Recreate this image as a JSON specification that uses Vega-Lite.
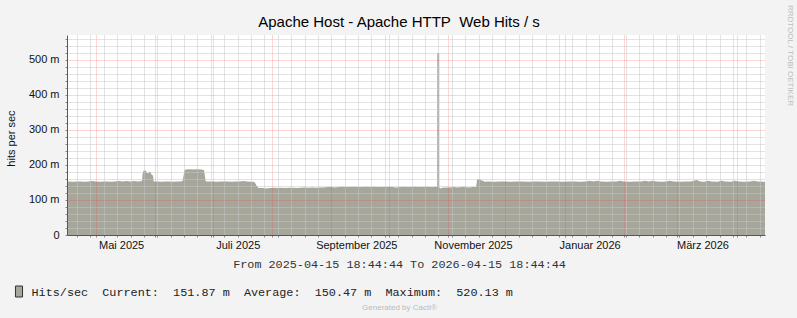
{
  "$schema": "https://vega.github.io/schema/vega-lite/v6.json",
  "autosize": {"type": "none"},
  "width": 698,
  "height": 200,
  "padding": {"left": 67, "top": 35, "right": 32, "bottom": 83},
  "background": "#f3f3f3",
  "config": {
    "font": "Liberation Sans",
    "view": {"fill": "white", "stroke": null},
    "legend": {
      "orient": "none", "legendX": -54, "legendY": 250.5, "padding": 0,
      "symbolType": "M-0.64,-1H0.64V1H-0.64Z", "symbolSize": 121,
      "symbolStrokeColor": "#333333", "symbolStrokeWidth": 1, "symbolOpacity": 1,
      "labelFont": "Liberation Mono", "labelFontSize": 11.8, "labelColor": "#222222",
      "labelLimit": 0, "labelOffset": 6.5
    }
  },
  "title": {
    "text": "Apache Host - Apache HTTP\u00a0\u00a0Web Hits / s",
    "anchor": "middle", "frame": "group", "dx": -17, "dy": 30, "offset": 4,
    "font": "Liberation Sans", "fontSize": 15, "fontWeight": "normal", "color": "#000000"
  },
  "data": {"values": [
    {"t": "2025-04-15T18:44:44Z", "v": 0.152},
    {"t": "2025-04-17", "v": 0.153},
    {"t": "2025-04-19", "v": 0.152},
    {"t": "2025-04-21", "v": 0.153},
    {"t": "2025-04-23", "v": 0.153},
    {"t": "2025-04-25", "v": 0.152},
    {"t": "2025-04-27", "v": 0.153},
    {"t": "2025-04-29", "v": 0.154},
    {"t": "2025-05-01", "v": 0.153},
    {"t": "2025-05-03", "v": 0.152},
    {"t": "2025-05-05", "v": 0.153},
    {"t": "2025-05-07", "v": 0.153},
    {"t": "2025-05-09", "v": 0.152},
    {"t": "2025-05-11", "v": 0.153},
    {"t": "2025-05-13", "v": 0.154},
    {"t": "2025-05-15", "v": 0.153},
    {"t": "2025-05-17", "v": 0.154},
    {"t": "2025-05-19", "v": 0.153},
    {"t": "2025-05-21", "v": 0.154},
    {"t": "2025-05-23", "v": 0.153},
    {"t": "2025-05-25T00:00Z", "v": 0.154},
    {"t": "2025-05-25T08:00Z", "v": 0.176},
    {"t": "2025-05-26T00:00Z", "v": 0.186},
    {"t": "2025-05-26T12:00Z", "v": 0.183},
    {"t": "2025-05-27T00:00Z", "v": 0.185},
    {"t": "2025-05-27T12:00Z", "v": 0.178},
    {"t": "2025-05-28T06:00Z", "v": 0.176},
    {"t": "2025-05-28T18:00Z", "v": 0.181},
    {"t": "2025-05-29T12:00Z", "v": 0.179},
    {"t": "2025-05-30T00:00Z", "v": 0.172},
    {"t": "2025-05-30T18:00Z", "v": 0.170},
    {"t": "2025-05-31T03:00Z", "v": 0.153},
    {"t": "2025-06-02", "v": 0.153},
    {"t": "2025-06-04", "v": 0.152},
    {"t": "2025-06-06", "v": 0.153},
    {"t": "2025-06-08", "v": 0.153},
    {"t": "2025-06-10", "v": 0.152},
    {"t": "2025-06-12", "v": 0.153},
    {"t": "2025-06-14", "v": 0.153},
    {"t": "2025-06-15T06:00Z", "v": 0.154},
    {"t": "2025-06-16T06:00Z", "v": 0.186},
    {"t": "2025-06-17", "v": 0.187},
    {"t": "2025-06-19", "v": 0.188},
    {"t": "2025-06-21", "v": 0.187},
    {"t": "2025-06-23", "v": 0.188},
    {"t": "2025-06-25", "v": 0.187},
    {"t": "2025-06-26T10:00Z", "v": 0.186},
    {"t": "2025-06-27T08:00Z", "v": 0.153},
    {"t": "2025-06-29", "v": 0.153},
    {"t": "2025-07-01", "v": 0.153},
    {"t": "2025-07-03", "v": 0.152},
    {"t": "2025-07-05", "v": 0.153},
    {"t": "2025-07-07", "v": 0.153},
    {"t": "2025-07-09", "v": 0.153},
    {"t": "2025-07-11", "v": 0.152},
    {"t": "2025-07-13", "v": 0.153},
    {"t": "2025-07-15", "v": 0.153},
    {"t": "2025-07-17", "v": 0.154},
    {"t": "2025-07-19", "v": 0.153},
    {"t": "2025-07-21", "v": 0.152},
    {"t": "2025-07-22T12:00Z", "v": 0.152},
    {"t": "2025-07-23T06:00Z", "v": 0.148},
    {"t": "2025-07-24T00:00Z", "v": 0.140},
    {"t": "2025-07-25T00:00Z", "v": 0.134},
    {"t": "2025-07-27", "v": 0.134},
    {"t": "2025-07-29", "v": 0.133},
    {"t": "2025-07-31", "v": 0.134},
    {"t": "2025-08-02", "v": 0.135},
    {"t": "2025-08-04", "v": 0.134},
    {"t": "2025-08-06", "v": 0.135},
    {"t": "2025-08-08", "v": 0.134},
    {"t": "2025-08-10", "v": 0.135},
    {"t": "2025-08-12", "v": 0.135},
    {"t": "2025-08-14", "v": 0.134},
    {"t": "2025-08-16", "v": 0.135},
    {"t": "2025-08-18", "v": 0.136},
    {"t": "2025-08-20", "v": 0.135},
    {"t": "2025-08-22", "v": 0.136},
    {"t": "2025-08-24", "v": 0.135},
    {"t": "2025-08-26", "v": 0.136},
    {"t": "2025-08-28", "v": 0.136},
    {"t": "2025-08-30", "v": 0.137},
    {"t": "2025-09-01", "v": 0.137},
    {"t": "2025-09-03", "v": 0.136},
    {"t": "2025-09-05", "v": 0.137},
    {"t": "2025-09-07", "v": 0.138},
    {"t": "2025-09-09", "v": 0.137},
    {"t": "2025-09-11", "v": 0.137},
    {"t": "2025-09-13", "v": 0.138},
    {"t": "2025-09-15", "v": 0.137},
    {"t": "2025-09-17", "v": 0.137},
    {"t": "2025-09-19", "v": 0.138},
    {"t": "2025-09-21", "v": 0.137},
    {"t": "2025-09-23", "v": 0.138},
    {"t": "2025-09-25", "v": 0.137},
    {"t": "2025-09-27", "v": 0.137},
    {"t": "2025-09-29", "v": 0.137},
    {"t": "2025-10-01", "v": 0.138},
    {"t": "2025-10-03", "v": 0.137},
    {"t": "2025-10-05", "v": 0.136},
    {"t": "2025-10-07", "v": 0.137},
    {"t": "2025-10-09", "v": 0.138},
    {"t": "2025-10-11", "v": 0.137},
    {"t": "2025-10-13", "v": 0.137},
    {"t": "2025-10-15", "v": 0.138},
    {"t": "2025-10-17", "v": 0.137},
    {"t": "2025-10-19", "v": 0.137},
    {"t": "2025-10-21", "v": 0.138},
    {"t": "2025-10-23", "v": 0.137},
    {"t": "2025-10-25", "v": 0.137},
    {"t": "2025-10-26T09:00Z", "v": 0.138},
    {"t": "2025-10-26T10:00Z", "v": 0.520},
    {"t": "2025-10-27T10:00Z", "v": 0.520},
    {"t": "2025-10-27T11:00Z", "v": 0.136},
    {"t": "2025-10-28T00:00Z", "v": 0.133},
    {"t": "2025-10-29", "v": 0.135},
    {"t": "2025-10-31", "v": 0.136},
    {"t": "2025-11-02", "v": 0.136},
    {"t": "2025-11-04", "v": 0.137},
    {"t": "2025-11-06", "v": 0.136},
    {"t": "2025-11-08", "v": 0.137},
    {"t": "2025-11-10", "v": 0.137},
    {"t": "2025-11-12", "v": 0.136},
    {"t": "2025-11-14", "v": 0.137},
    {"t": "2025-11-15T18:00Z", "v": 0.137},
    {"t": "2025-11-16T06:00Z", "v": 0.160},
    {"t": "2025-11-17T00:00Z", "v": 0.158},
    {"t": "2025-11-17T18:00Z", "v": 0.160},
    {"t": "2025-11-18T12:00Z", "v": 0.155},
    {"t": "2025-11-19T06:00Z", "v": 0.156},
    {"t": "2025-11-20T00:00Z", "v": 0.152},
    {"t": "2025-11-22", "v": 0.153},
    {"t": "2025-11-25", "v": 0.152},
    {"t": "2025-11-28", "v": 0.153},
    {"t": "2025-12-01", "v": 0.153},
    {"t": "2025-12-04", "v": 0.152},
    {"t": "2025-12-07", "v": 0.153},
    {"t": "2025-12-10", "v": 0.153},
    {"t": "2025-12-13", "v": 0.152},
    {"t": "2025-12-16", "v": 0.153},
    {"t": "2025-12-19", "v": 0.153},
    {"t": "2025-12-22", "v": 0.152},
    {"t": "2025-12-25", "v": 0.153},
    {"t": "2025-12-28", "v": 0.153},
    {"t": "2025-12-31", "v": 0.152},
    {"t": "2026-01-03", "v": 0.153},
    {"t": "2026-01-06", "v": 0.153},
    {"t": "2026-01-09", "v": 0.152},
    {"t": "2026-01-12", "v": 0.153},
    {"t": "2026-01-14", "v": 0.155},
    {"t": "2026-01-16", "v": 0.153},
    {"t": "2026-01-18", "v": 0.155},
    {"t": "2026-01-20", "v": 0.153},
    {"t": "2026-01-23", "v": 0.152},
    {"t": "2026-01-26", "v": 0.153},
    {"t": "2026-01-28", "v": 0.153},
    {"t": "2026-01-30", "v": 0.155},
    {"t": "2026-02-01", "v": 0.153},
    {"t": "2026-02-04", "v": 0.152},
    {"t": "2026-02-07", "v": 0.153},
    {"t": "2026-02-10", "v": 0.153},
    {"t": "2026-02-12", "v": 0.155},
    {"t": "2026-02-14", "v": 0.153},
    {"t": "2026-02-16", "v": 0.155},
    {"t": "2026-02-18", "v": 0.153},
    {"t": "2026-02-21", "v": 0.152},
    {"t": "2026-02-23", "v": 0.153},
    {"t": "2026-02-25", "v": 0.155},
    {"t": "2026-02-27", "v": 0.153},
    {"t": "2026-03-02", "v": 0.152},
    {"t": "2026-03-05", "v": 0.153},
    {"t": "2026-03-08", "v": 0.153},
    {"t": "2026-03-11", "v": 0.157},
    {"t": "2026-03-13", "v": 0.153},
    {"t": "2026-03-15", "v": 0.152},
    {"t": "2026-03-17", "v": 0.155},
    {"t": "2026-03-19", "v": 0.153},
    {"t": "2026-03-22", "v": 0.152},
    {"t": "2026-03-24", "v": 0.155},
    {"t": "2026-03-26", "v": 0.153},
    {"t": "2026-03-29", "v": 0.152},
    {"t": "2026-03-31", "v": 0.155},
    {"t": "2026-04-02", "v": 0.153},
    {"t": "2026-04-05", "v": 0.152},
    {"t": "2026-04-08", "v": 0.153},
    {"t": "2026-04-10", "v": 0.155},
    {"t": "2026-04-12", "v": 0.153},
    {"t": "2026-04-15T18:44:44Z", "v": 0.152}
  ]},
  "layer": [
    {
      "mark": {"type": "area", "interpolate": "linear"},
      "encoding": {
        "x": {
          "field": "t", "type": "temporal",
          "scale": {"type": "utc", "nice": false,
            "domain": [
              {"year": 2025, "month": 4, "date": 15, "hours": 18, "minutes": 44, "seconds": 44, "utc": true},
              {"year": 2026, "month": 4, "date": 15, "hours": 18, "minutes": 44, "seconds": 44, "utc": true}
            ]},
          "axis": {
            "values": [
              {"year": 2025, "month": 4, "date": 21, "utc": true},
              {"year": 2025, "month": 4, "date": 28, "utc": true},
              {"year": 2025, "month": 5, "date": 1, "utc": true},
              {"year": 2025, "month": 5, "date": 5, "utc": true},
              {"year": 2025, "month": 5, "date": 12, "utc": true},
              {"year": 2025, "month": 5, "date": 19, "utc": true},
              {"year": 2025, "month": 5, "date": 26, "utc": true},
              {"year": 2025, "month": 6, "date": 1, "utc": true},
              {"year": 2025, "month": 6, "date": 2, "utc": true},
              {"year": 2025, "month": 6, "date": 9, "utc": true},
              {"year": 2025, "month": 6, "date": 16, "utc": true},
              {"year": 2025, "month": 6, "date": 23, "utc": true},
              {"year": 2025, "month": 6, "date": 30, "utc": true},
              {"year": 2025, "month": 7, "date": 1, "utc": true},
              {"year": 2025, "month": 7, "date": 7, "utc": true},
              {"year": 2025, "month": 7, "date": 14, "utc": true},
              {"year": 2025, "month": 7, "date": 21, "utc": true},
              {"year": 2025, "month": 7, "date": 28, "utc": true},
              {"year": 2025, "month": 8, "date": 1, "utc": true},
              {"year": 2025, "month": 8, "date": 4, "utc": true},
              {"year": 2025, "month": 8, "date": 11, "utc": true},
              {"year": 2025, "month": 8, "date": 18, "utc": true},
              {"year": 2025, "month": 8, "date": 25, "utc": true},
              {"year": 2025, "month": 9, "date": 1, "utc": true},
              {"year": 2025, "month": 9, "date": 8, "utc": true},
              {"year": 2025, "month": 9, "date": 15, "utc": true},
              {"year": 2025, "month": 9, "date": 22, "utc": true},
              {"year": 2025, "month": 9, "date": 29, "utc": true},
              {"year": 2025, "month": 10, "date": 1, "utc": true},
              {"year": 2025, "month": 10, "date": 6, "utc": true},
              {"year": 2025, "month": 10, "date": 13, "utc": true},
              {"year": 2025, "month": 10, "date": 20, "utc": true},
              {"year": 2025, "month": 10, "date": 27, "utc": true},
              {"year": 2025, "month": 11, "date": 1, "utc": true},
              {"year": 2025, "month": 11, "date": 3, "utc": true},
              {"year": 2025, "month": 11, "date": 10, "utc": true},
              {"year": 2025, "month": 11, "date": 17, "utc": true},
              {"year": 2025, "month": 11, "date": 24, "utc": true},
              {"year": 2025, "month": 12, "date": 1, "utc": true},
              {"year": 2025, "month": 12, "date": 8, "utc": true},
              {"year": 2025, "month": 12, "date": 15, "utc": true},
              {"year": 2025, "month": 12, "date": 22, "utc": true},
              {"year": 2025, "month": 12, "date": 29, "utc": true},
              {"year": 2026, "month": 1, "date": 1, "utc": true},
              {"year": 2026, "month": 1, "date": 5, "utc": true},
              {"year": 2026, "month": 1, "date": 12, "utc": true},
              {"year": 2026, "month": 1, "date": 19, "utc": true},
              {"year": 2026, "month": 1, "date": 26, "utc": true},
              {"year": 2026, "month": 2, "date": 1, "utc": true},
              {"year": 2026, "month": 2, "date": 2, "utc": true},
              {"year": 2026, "month": 2, "date": 9, "utc": true},
              {"year": 2026, "month": 2, "date": 16, "utc": true},
              {"year": 2026, "month": 2, "date": 23, "utc": true},
              {"year": 2026, "month": 3, "date": 1, "utc": true},
              {"year": 2026, "month": 3, "date": 2, "utc": true},
              {"year": 2026, "month": 3, "date": 9, "utc": true},
              {"year": 2026, "month": 3, "date": 16, "utc": true},
              {"year": 2026, "month": 3, "date": 23, "utc": true},
              {"year": 2026, "month": 3, "date": 30, "utc": true},
              {"year": 2026, "month": 4, "date": 1, "utc": true},
              {"year": 2026, "month": 4, "date": 6, "utc": true},
              {"year": 2026, "month": 4, "date": 13, "utc": true}
            ],
            "title": "From 2025-04-15 18:44:44 To 2026-04-15 18:44:44",
            "titleFont": "Liberation Mono", "titleFontSize": 11.8, "titleFontWeight": "normal",
            "titleColor": "#333333", "titleX": 332, "titleY": 28, "titleBaseline": "middle", "titleAlign": "center",
            "labelExpr": "utcdate(datum.value) == 1 && utcmonth(datum.value) % 2 == 0 ? ['Januar','Februar','März','April','Mai','Juni','Juli','August','September','Oktober','November','Dezember'][utcmonth(datum.value)] + ' ' + utcyear(datum.value) : ''",
            "labelOffset": 25, "labelFontSize": 11, "labelColor": "#111111", "labelPadding": 2,
            "labelOverlap": false, "labelFlush": false, "labelBaseline": "top", "labelAlign": "center",
            "tickSize": 2, "tickColor": "#888888",
            "domainColor": "#4b5d55", "domainWidth": 1,
            "grid": true,
            "gridColor": {"condition": {"test": "utcdate(datum.value) == 1", "value": "rgba(255,60,60,0.42)"}, "value": "#c6c6c6"},
            "gridDash": [1, 1], "gridWidth": 1,
            "zindex": 1
          }
        },
        "y": {
          "field": "v", "type": "quantitative",
          "scale": {"domain": [0, 0.5714], "nice": false, "zero": true},
          "axis": {
            "values": [0, 0.02, 0.04, 0.06, 0.08, 0.1, 0.12, 0.14, 0.16, 0.18, 0.2, 0.22, 0.24, 0.26, 0.28, 0.3, 0.32, 0.34, 0.36, 0.38, 0.4, 0.42, 0.44, 0.46, 0.48, 0.5, 0.52, 0.54, 0.56],
            "title": "hits per sec", "titleFontSize": 11, "titleFontWeight": "normal", "titleColor": "#111111",
            "titleX": -56, "titleY": 103, "titleAngle": -90, "titleBaseline": "middle", "titleAlign": "center",
            "labelExpr": "abs(datum.value*10 - round(datum.value*10)) < 0.001 ? (datum.value == 0 ? '0\u00a0\u00a0' : round(datum.value*1000) + ' m') : ''",
            "labelFontSize": 11, "labelColor": "#111111", "labelPadding": 6, "labelOverlap": false,
            "tickSize": 2, "tickColor": "#888888",
            "domainColor": "#4b5d55", "domainWidth": 1,
            "grid": true,
            "gridColor": {"condition": {"test": "abs(datum.value*10 - round(datum.value*10)) < 0.001", "value": "rgba(255,60,60,0.42)"}, "value": "#c6c6c6"},
            "gridDash": [1, 1], "gridWidth": 1,
            "zindex": 1
          }
        },
        "color": {
          "datum": "Hits/sec\u00a0\u00a0Current:\u00a0\u00a0151.87 m\u00a0\u00a0Average:\u00a0\u00a0150.47 m\u00a0\u00a0Maximum:\u00a0\u00a0520.13 m",
          "type": "nominal",
          "scale": {"range": ["#a6a69b"]},
          "legend": {"title": null}
        }
      }
    },
    {
      "mark": {"type": "point", "opacity": 0},
      "encoding": {
        "x": {
          "field": "t", "type": "temporal",
          "scale": {"type": "utc", "nice": false},
          "axis": {
            "orient": "top", "labels": false, "ticks": false, "domain": false, "grid": false,
            "title": "Generated by Cacti®", "titleFont": "Liberation Sans", "titleFontSize": 8, "titleFontWeight": "normal",
            "titleColor": "#bbbbbb", "titleX": 332, "titleY": 272, "titleBaseline": "middle", "titleAlign": "center"
          }
        },
        "y": {
          "field": "v", "type": "quantitative",
          "axis": {
            "orient": "right", "labels": false, "ticks": false, "domain": false, "grid": false,
            "title": "RRDTOOL / TOBI OETIKER", "titleFont": "Liberation Sans", "titleFontSize": 8, "titleFontWeight": "normal",
            "titleColor": "#bdbdbd", "titleX": 24, "titleY": 20, "titleAngle": 90, "titleBaseline": "middle", "titleAlign": "center"
          }
        }
      }
    }
  ],
  "resolve": {"scale": {"x": "independent", "y": "independent"}}
}
